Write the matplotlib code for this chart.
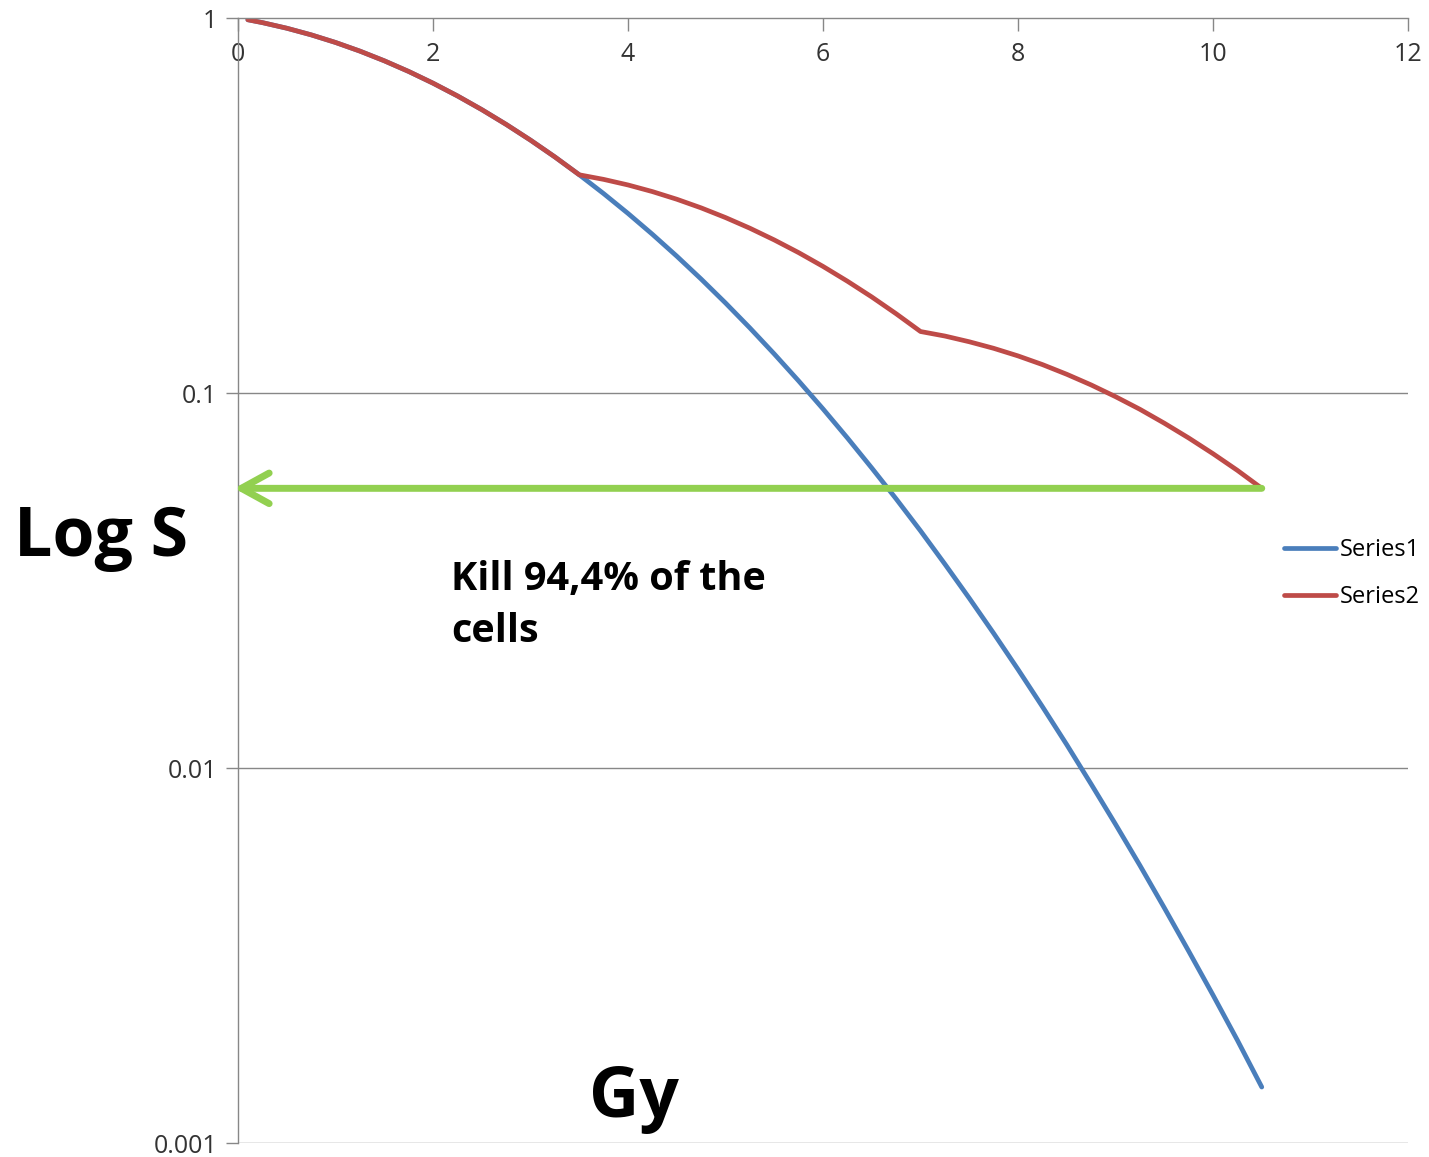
import matplotlib.pyplot as plt

# dose (Gy) and surviving fraction
dose = [0.1, 0.25, 0.5, 0.75, 1.0, 1.25, 1.5, 1.75, 2.0, 2.25, 2.5, 2.75,
        3.0, 3.25, 3.5, 3.75, 4.0, 4.25, 4.5, 4.75, 5.0, 5.25, 5.5, 5.75,
        6.0, 6.25, 6.5, 6.75, 7.0, 7.25, 7.5, 7.75, 8.0, 8.25, 8.5, 8.75,
        9.0, 9.25, 9.5, 9.75, 10.0, 10.25, 10.5]
series1 = [0.9896, 0.9723, 0.9394, 0.9020, 0.8607, 0.8162, 0.7691, 0.7203,
           0.6703, 0.6200, 0.5698, 0.5204, 0.4724, 0.4261, 0.3819, 0.3402,
           0.3012, 0.2650, 0.2317, 0.2013, 0.1738, 0.1491, 0.1271, 0.1077,
           0.0907, 0.0759, 0.0631, 0.0522, 0.0429, 0.03497, 0.02837, 0.02287,
           0.01832, 0.01458, 0.01154, 0.00906, 0.00708, 0.00550, 0.00424,
           0.00325, 0.00248, 0.00188, 0.00141]
series2 = [0.9896, 0.9723, 0.9394, 0.9020, 0.8607, 0.8162, 0.7691, 0.7203,
           0.6703, 0.6200, 0.5698, 0.5204, 0.4724, 0.4261, 0.3819, 0.3713,
           0.3588, 0.3445, 0.3287, 0.3117, 0.2937, 0.2751, 0.2560, 0.2368,
           0.2176, 0.1987, 0.1804, 0.1627, 0.1459, 0.1419, 0.1370, 0.1316,
           0.1256, 0.1191, 0.1122, 0.1051, 0.0978, 0.0905, 0.0831, 0.0759,
           0.0689, 0.0622, 0.0557]
x_ticks = [0, 2, 4, 6, 8, 10, 12]
y_ticks = [1, 0.1, 0.01, 0.001]
y_labels = ['1', '0.1', '0.01', '0.001']
arrow_level = 0.0557

plt.rcParams['font.family'] = ['Open Sans', 'DejaVu Sans']

fig = plt.figure(figsize=(14.29, 11.57), dpi=100)
ax = fig.add_axes([0.1666, 0.0121, 0.8187, 0.9723])

grid_c = '#878787'
ax.set_yscale('log')
ax.set_xlim(0, 12)
ax.set_ylim(0.001, 1)

ax.plot(dose, series1, color='#4A7EBB', lw=3.4, label='Series1',
        solid_capstyle='round', solid_joinstyle='round')
ax.plot(dose, series2, color='#BE4B48', lw=3.4, label='Series2',
        solid_capstyle='round', solid_joinstyle='round')

for yv in y_ticks[1:]:
    ax.axhline(yv, color=grid_c, lw=1.0, zorder=0)

for s in ['right', 'bottom']:
    ax.spines[s].set_visible(False)
for s in ['left', 'top']:
    ax.spines[s].set_color(grid_c)
    ax.spines[s].set_linewidth(1.0)

ax.xaxis.tick_top()
ax.set_xticks(x_ticks)
ax.set_xticklabels([str(v) for v in x_ticks])
ax.tick_params(axis='x', direction='in', length=9, width=1.0, color=grid_c,
               pad=-17, labelsize=18, labelcolor='#333333', top=True)
ax.set_yticks(y_ticks)
ax.set_yticklabels(y_labels)
ax.minorticks_off()
ax.tick_params(axis='y', direction='out', length=9, width=1.0, color=grid_c,
               pad=6, labelsize=18, labelcolor='#333333')
for lab in ax.get_xticklabels():
    lab.set_va('top')

ax.annotate('', xy=(-0.04, arrow_level), xytext=(10.5, arrow_level),
            annotation_clip=False,
            arrowprops=dict(arrowstyle='->,head_length=1.0,head_width=0.55',
                            color='#92D050', lw=5, mutation_scale=20,
                            shrinkA=0, shrinkB=0, capstyle='round',
                            joinstyle='round'))

fig.text(0.010, 0.535, 'Log S', fontsize=49, fontweight='bold',
         ha='left', va='center')
fig.text(0.412, 0.050, 'Gy', fontsize=50, fontweight='bold',
         ha='left', va='center')
ax.text(0.182, 0.518, 'Kill 94,4% of the\ncells', transform=ax.transAxes,
        fontsize=28.5, fontweight='bold', ha='left', va='top', linespacing=1.43)

ax.legend(loc='upper left', bbox_to_anchor=(0.894, 0.538), frameon=False,
          fontsize=17, handlelength=2.2, handletextpad=0.15,
          labelspacing=1.0, borderaxespad=0, borderpad=0)

fig.savefig('out.png', dpi=100)
